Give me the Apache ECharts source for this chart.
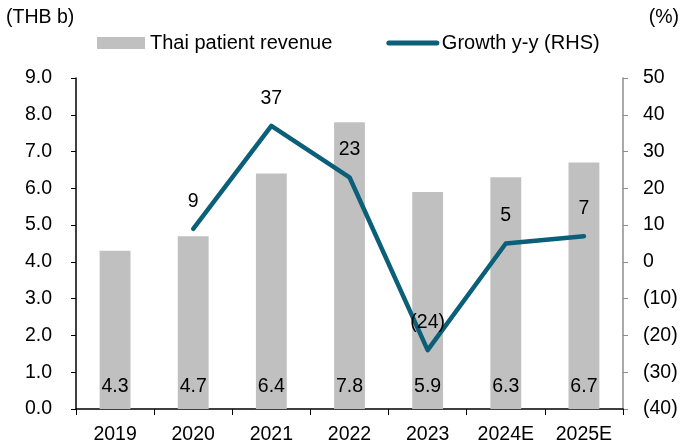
<!DOCTYPE html>
<html>
<head>
<meta charset="utf-8">
<script src="https://cdn.jsdelivr.net/npm/echarts@6/dist/echarts.min.js"></script>
<style>
  html, body { margin: 0; padding: 0; background: #fff; }
  #chart { width: 683px; height: 447px; }
</style>
</head>
<body>
<div id="chart"></div>
<script>
const years = ['2019', '2020', '2021', '2022', '2023', '2024E', '2025E']
const revenue = [4.3, 4.7, 6.4, 7.8, 5.9, 6.3, 6.7]
const growth = [null, 9, 37, 23, -24, 5, 7]

const fontFamily = '"Liberation Sans", Arial, sans-serif'
const fs = 19.5
const lineColor = '#0B5F78'
const paren = v => (v < 0 ? '(' + Math.abs(v) + ')' : String(v))

const chart = echarts.init(document.getElementById('chart'))
chart.setOption({
  animation: false,
  textStyle: { fontFamily: fontFamily, color: '#000' },
  grid: { left: 76, right: 60, top: 78, bottom: 38 },
  graphic: [
    { type: 'text', left: 6, top: 8, style: { text: '(THB b)', font: fs + 'px ' + fontFamily, fill: '#000' } },
    { type: 'text', right: 4, top: 8, style: { text: '(%)', font: fs + 'px ' + fontFamily, fill: '#000' } }
  ],
  legend: {
    left: 97,
    top: 33,
    padding: 0,
    itemWidth: 48,
    itemHeight: 12,
    itemGap: 54,
    textStyle: { fontSize: 20, fontFamily: fontFamily, color: '#000' },
    data: [
      { name: 'Thai patient revenue', icon: 'rect' },
      { name: 'Growth y-y (RHS)', itemStyle: { opacity: 0 }, lineStyle: { width: 5, cap: 'round' } }
    ]
  },
  xAxis: {
    type: 'category',
    data: years,
    axisLine: { lineStyle: { color: '#000', width: 1.5 } },
    axisTick: { show: true, length: 6, lineStyle: { color: '#000' } },
    axisLabel: { fontSize: fs, color: '#000', margin: 16 }
  },
  yAxis: [
    {
      type: 'value',
      min: 0,
      max: 9,
      interval: 1,
      splitLine: { show: false },
      axisLine: { show: true, lineStyle: { color: '#000', width: 1.5 } },
      axisTick: { show: true, length: 5, lineStyle: { color: '#000' } },
      axisLabel: { fontSize: fs, color: '#000', margin: 24, formatter: v => v.toFixed(1) }
    },
    {
      type: 'value',
      min: -40,
      max: 50,
      interval: 10,
      splitLine: { show: false },
      axisLine: { show: true, lineStyle: { color: '#8C8C8C', width: 1.5 } },
      axisTick: { show: true, length: 5, lineStyle: { color: '#8C8C8C' } },
      axisLabel: { fontSize: fs, color: '#000', margin: 20, formatter: paren }
    }
  ],
  series: [
    {
      name: 'Thai patient revenue',
      type: 'bar',
      data: revenue,
      barWidth: '39.5%',
      itemStyle: { color: '#C0C0C0' },
      label: {
        show: true,
        position: 'insideBottom',
        distance: 12,
        fontSize: fs,
        color: '#000',
        formatter: p => p.value.toFixed(1)
      }
    },
    {
      name: 'Growth y-y (RHS)',
      type: 'line',
      yAxisIndex: 1,
      data: growth,
      symbol: 'circle',
      symbolSize: 1,
      lineStyle: { color: lineColor, width: 4.5, cap: 'round', join: 'round' },
      itemStyle: { color: lineColor },
      label: {
        show: true,
        position: 'top',
        distance: 17,
        fontSize: fs,
        color: '#000',
        formatter: p => paren(p.value)
      }
    }
  ]
})
</script>
</body>
</html>
